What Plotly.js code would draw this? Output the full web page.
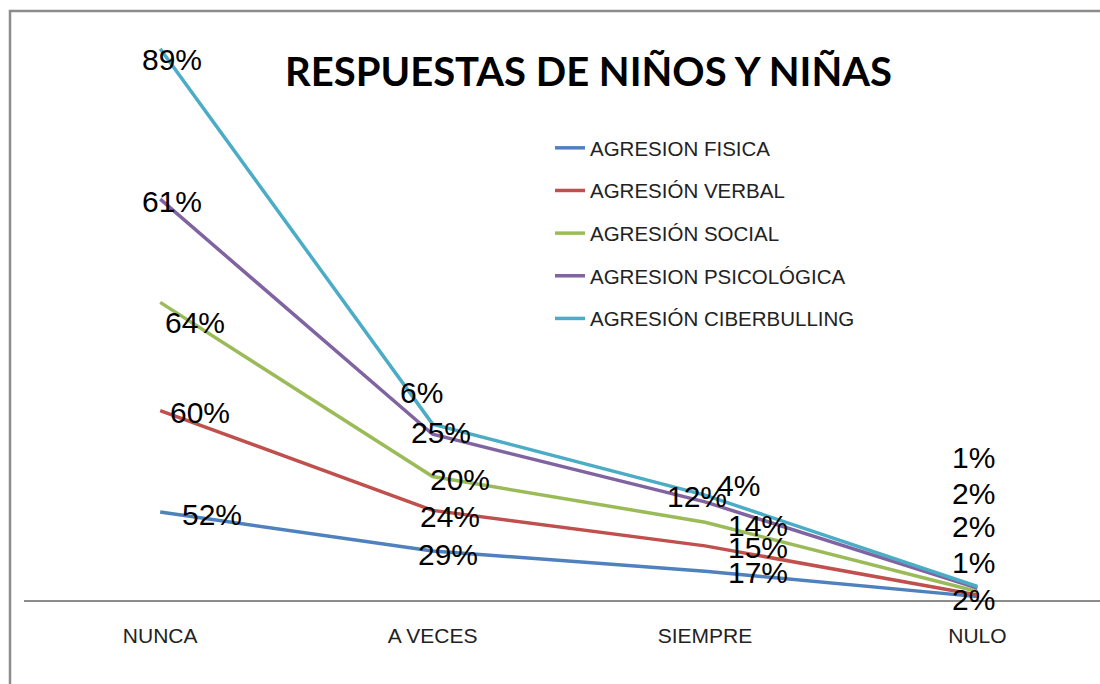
<!DOCTYPE html>
<html>
<head>
<meta charset="utf-8">
<script src="https://cdn.plot.ly/plotly-3.0.1.min.js"></script>
<style>html,body{margin:0;padding:0;background:#fff}#chart{width:1100px;height:684px}</style>
</head>
<body>
<div id="chart"></div>
<script>
const categories = ["NUNCA", "A VECES", "SIEMPRE", "NULO"];
const seriesNames = ["AGRESION FISICA", "AGRESIÓN VERBAL", "AGRESIÓN SOCIAL", "AGRESION PSICOLÓGICA", "AGRESIÓN CIBERBULLING"];
const fisica = [52, 29, 17, 2];
const verbal = [60, 24, 15, 1];
const social = [64, 20, 14, 2];
const psicologica = [61, 25, 12, 2];
const ciberbulling = [89, 6, 4, 1];
const seriesValues = [fisica, verbal, social, psicologica, ciberbulling];
const colors = ["#4F81BD", "#C0504D", "#9BBB59", "#8064A2", "#4BACC6"];

// label offsets in pixels [xshift, yshift] per series per category
const labelOffsets = [
  [[52, -2], [15, -4], [53, -1], [-4, -3]],
  [[40, -2], [17, -6], [53, -2], [-4, 32]],
  [[35, -20], [27, -3], [53, -3], [-4, 65]],
  [[12, -2], [8, 2], [-8, 5], [-4, 95]],
  [[12, -11], [-11, 32], [33, 10], [-4, 129]]
];

const cum = [];
let running = categories.map(() => 0);
seriesValues.forEach(v => {
  running = running.map((r, i) => r + v[i]);
  cum.push(running.slice());
});

const traces = seriesNames.map((name, s) => ({
  type: "scatter",
  mode: "lines",
  name: name,
  x: categories,
  y: cum[s],
  legendgroup: "g" + s,
  line: {color: colors[s], width: 3.5},
  hoverinfo: "skip"
}));

const annotations = [];
seriesValues.forEach((v, s) => {
  v.forEach((val, i) => {
    annotations.push({
      x: categories[i], y: cum[s][i], xref: "x", yref: "y",
      text: val + "%", showarrow: false,
      xshift: labelOffsets[s][i][0], yshift: labelOffsets[s][i][1],
      font: {family: "Liberation Sans, Arial, sans-serif", size: 30, color: "#000"}
    });
  });
});

const layout = {
  width: 1100, height: 684,
  margin: {l: 24, r: 0, t: 25, b: 84},
  paper_bgcolor: "#fff", plot_bgcolor: "rgba(0,0,0,0)",
  title: {
    text: "<b>RESPUESTAS DE NIÑOS Y NIÑAS</b>",
    x: 0.535, xref: "container", xanchor: "center",
    y: 1 - 72 / 684, yref: "container", yanchor: "middle",
    font: {family: "Lato, Open Sans, sans-serif", size: 40, color: "#000"}
  },
  xaxis: {
    type: "category", range: [-0.5, 3.45],
    showgrid: false, zeroline: false,
    showline: true, linecolor: "#8c8c8c", linewidth: 1.5,
    ticks: "", ticklabelstandoff: 16,
    tickfont: {family: "Liberation Sans, Arial, sans-serif", size: 21, color: "#222"},
    fixedrange: true
  },
  yaxis: {
    range: [0, 340], visible: false, showgrid: false, zeroline: false, fixedrange: true
  },
  showlegend: true,
  legend: {
    x: (550 - 24) / 1076, xanchor: "left",
    y: (600 - 128) / 575, yanchor: "top",
    bgcolor: "rgba(0,0,0,0)",
    tracegroupgap: 13,
    font: {family: "Liberation Sans, Arial, sans-serif", size: 20.5, color: "#222"}
  },
  shapes: [{
    type: "rect", xref: "paper", yref: "paper",
    x0: (10 - 24) / 1076, x1: 1.05, y0: -0.3, y1: (600 - 11) / 575,
    line: {color: "#8c8c8c", width: 2.5}, fillcolor: "rgba(0,0,0,0)", layer: "below"
  }],
  annotations: annotations
};

Plotly.newPlot("chart", traces, layout, {displayModeBar: false, staticPlot: true});
</script>
</body>
</html>
